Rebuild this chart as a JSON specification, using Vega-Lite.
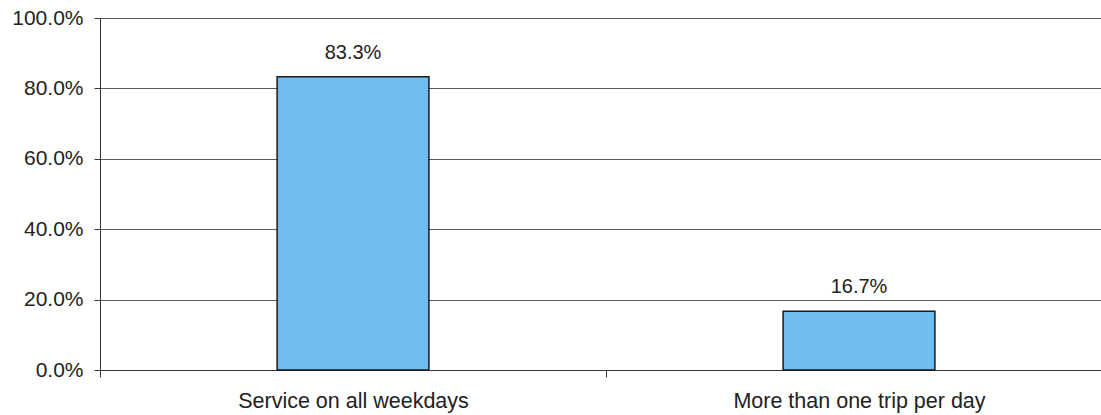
{
  "$schema": "https://vega.github.io/schema/vega-lite/v6.json",
  "width": 1001,
  "height": 352,
  "autosize": "none",
  "padding": {"left": 100, "top": 18, "right": 0, "bottom": 45},
  "background": "white",
  "config": {"view": {"stroke": null}, "font": "Liberation Sans"},
  "data": {
    "values": [
      {"category": "Service on all weekdays", "share": 0.833},
      {"category": "More than one trip per day", "share": 0.167}
    ]
  },
  "encoding": {
    "x": {
      "field": "category",
      "type": "nominal",
      "sort": null,
      "scale": {"range": [0, 1012], "paddingInner": 0, "paddingOuter": 0},
      "axis": {
        "title": null,
        "labelAngle": 0,
        "tickBand": "extent",
        "labelFontSize": 21.5,
        "labelLimit": 600,
        "labelColor": "#222222",
        "domainColor": "#333333",
        "tickColor": "#333333",
        "tickSize": 7,
        "labelPadding": 13,
        "grid": false
      }
    },
    "y": {
      "field": "share",
      "type": "quantitative",
      "scale": {"domain": [0, 1]},
      "axis": {
        "title": null,
        "format": ".1%",
        "values": [0, 0.2, 0.4, 0.6, 0.8, 1],
        "labelFontSize": 21,
        "labelColor": "#222222",
        "gridColor": "#5a5a5a",
        "domainColor": "#333333",
        "tickColor": "#333333",
        "tickSize": 6,
        "labelPadding": 11
      }
    }
  },
  "layer": [
    {"mark": {"type": "bar", "width": {"band": 0.3}, "fill": "#70bdf2", "stroke": "#1a1a1a", "strokeWidth": 1.5}},
    {
      "mark": {"type": "text", "baseline": "bottom", "dy": -14, "fontSize": 20, "color": "#222222"},
      "encoding": {"text": {"field": "share", "format": ".1%"}}
    }
  ]
}
